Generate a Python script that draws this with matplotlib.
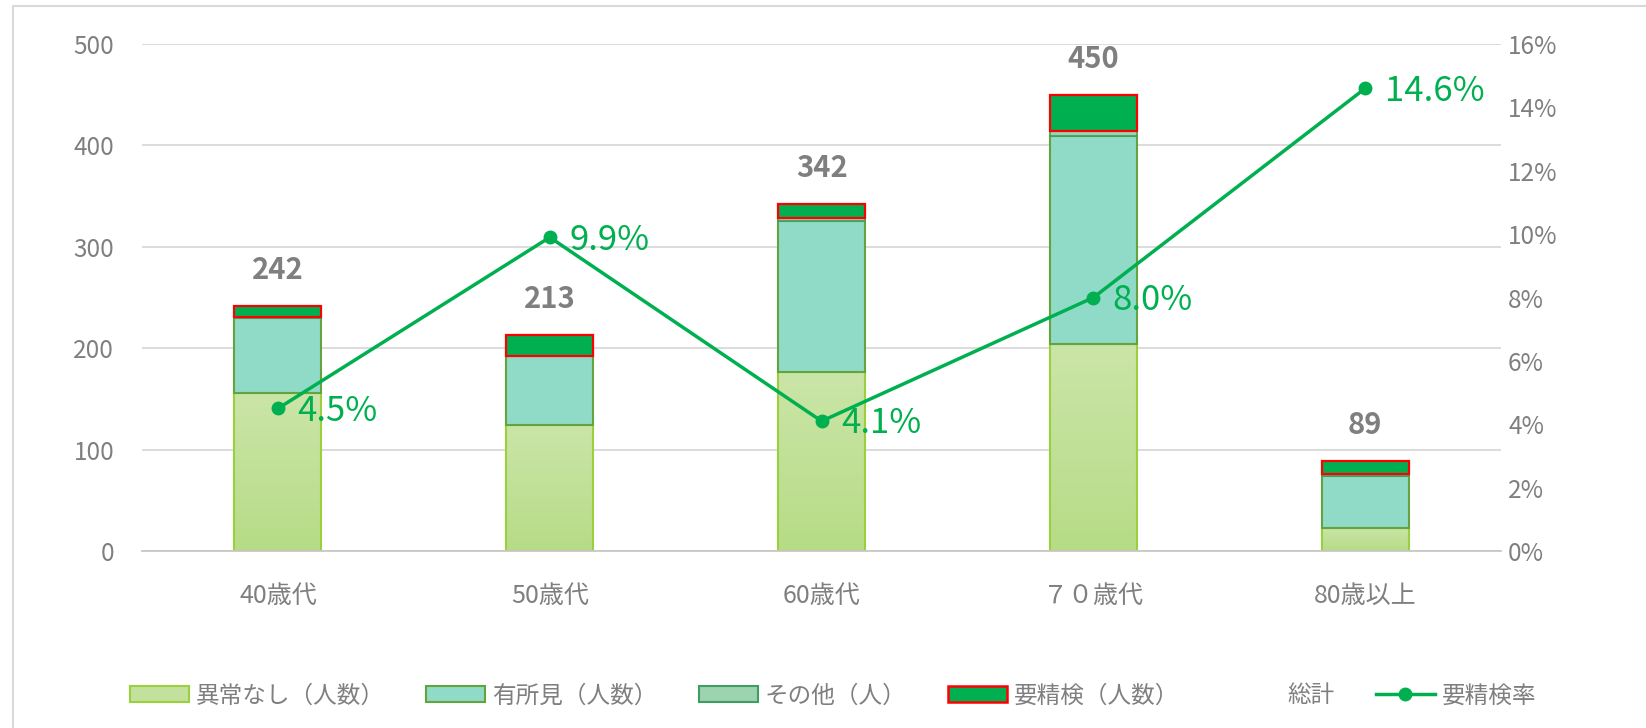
import matplotlib.pyplot as plt
import numpy as np
from matplotlib.patches import Patch, Rectangle
from matplotlib.lines import Line2D
from matplotlib.colors import LinearSegmentedColormap

plt.rcParams['font.family'] = ['Noto Sans CJK JP', 'DejaVu Sans']

# data
categories = ['40歳代', '50歳代', '60歳代', '７０歳代', '80歳以上']
normal = [156, 124, 177, 204, 23]      # 異常なし（人数）
findings = [74, 68, 148, 205, 51]      # 有所見（人数）
other = [1, 0, 3, 5, 2]                # その他（人）
recheck = [11, 21, 14, 36, 13]         # 要精検（人数）
totals = [242, 213, 342, 450, 89]      # 総計
recheck_rate = [4.5, 9.9, 4.1, 8.0, 14.6]  # 要精検率 (%)

gray = '#7f7f7f'
green = '#00b050'

fig = plt.figure(figsize=(16.46, 7.28), dpi=100)
ax = fig.add_axes([0.0863, 0.243, 0.8257, 0.6966])
x = np.arange(len(categories))
w = 0.32

b1 = ax.bar(x, normal, w, facecolor='none', edgecolor='#9bcf3c', lw=1.5, zorder=2)
b2 = ax.bar(x, findings, w, bottom=normal, facecolor='#90dbc8',
            edgecolor='#63a53c', lw=1.5, zorder=2)
base2 = np.array(normal) + np.array(findings)
b3 = ax.bar(x, other, w, bottom=base2, facecolor='#9ed3b0',
            edgecolor='#3f9e62', lw=1.2, zorder=2)
base3 = base2 + np.array(other)
b4 = ax.bar(x, recheck, w, bottom=base3, facecolor=green,
            edgecolor='#ff0000', lw=1.6, zorder=2)

# gradient fill for the 異常なし segment
cmap = LinearSegmentedColormap.from_list('g', ['#b6dc86', '#cbe5a8'])
grad = np.linspace(0, 1, 256).reshape(-1, 1)
for r in b1:
    x0, y0 = r.get_x(), r.get_y()
    ax.imshow(grad, extent=[x0, x0 + r.get_width(), y0, y0 + r.get_height()],
              cmap=cmap, aspect='auto', origin='lower', zorder=1.5)

ax.set_xlim(-0.5, len(categories) - 0.5)
ax.set_ylim(0, 500)
ax.set_yticks(range(0, 501, 100))
ax.set_xticks(x)
ax.set_xticklabels(categories)
ax.tick_params(axis='y', length=0, pad=20, labelsize=17.5, labelcolor=gray)
ax.tick_params(axis='x', length=0, pad=23, labelsize=18, labelcolor=gray)
ax.yaxis.grid(True, color='#d9d9d9', lw=1.3)
ax.set_axisbelow(True)
for s in ['top', 'left', 'right']:
    ax.spines[s].set_visible(False)
ax.spines['bottom'].set_color('#c8c8c8')
ax.spines['bottom'].set_linewidth(1.3)

for i, t in enumerate(totals):
    ax.annotate(str(t), (x[i], t), xytext=(0, 26), textcoords='offset points',
                ha='center', va='center', fontsize=21, fontweight='bold', color=gray)

ax2 = ax.twinx()
ax2.plot(x, recheck_rate, color=green, lw=2.5, marker='o', ms=9, zorder=3)
ax2.set_ylim(0, 16)
ax2.set_yticks(range(0, 17, 2))
ax2.set_yticklabels([f'{v}%' for v in range(0, 17, 2)])
ax2.tick_params(axis='y', length=0, pad=5, labelsize=17.5, labelcolor=gray)
for s in ax2.spines.values():
    s.set_visible(False)
for i, v in enumerate(recheck_rate):
    ax2.annotate(f'{v:.1f}%', (x[i], v), xytext=(14, -2), textcoords='offset points',
                 ha='left', va='center', fontsize=25, color=green)

# chart border
fig.patches.append(Rectangle((13 / 1646, -0.05), 1.2, 1 - 6 / 728 + 0.05,
                             transform=fig.transFigure, fill=False,
                             edgecolor='#d9d9d9', lw=1.5))

handles = [
    Patch(facecolor='#c3e19c', edgecolor='#9bcf3c', lw=1.5),
    Patch(facecolor='#90dbc8', edgecolor='#63a53c', lw=1.5),
    Patch(facecolor='#9ed3b0', edgecolor='#3f9e62', lw=1.5),
    Patch(facecolor=green, edgecolor='#ff0000', lw=1.8),
    Line2D([], [], color='none'),
    Line2D([], [], color=green, lw=2.5, marker='o', ms=9),
]
labels = ['異常なし（人数）', '有所見（人数）', 'その他（人）', '要精検（人数）', '総計', '要精検率']
fig.legend(handles, labels, loc='center', bbox_to_anchor=(0.506, 0.044), ncol=6,
           frameon=False, fontsize=17, labelcolor=gray, handlelength=2.5,
           handletextpad=0.3, columnspacing=1.75)

fig.savefig('out.png', dpi=100)
